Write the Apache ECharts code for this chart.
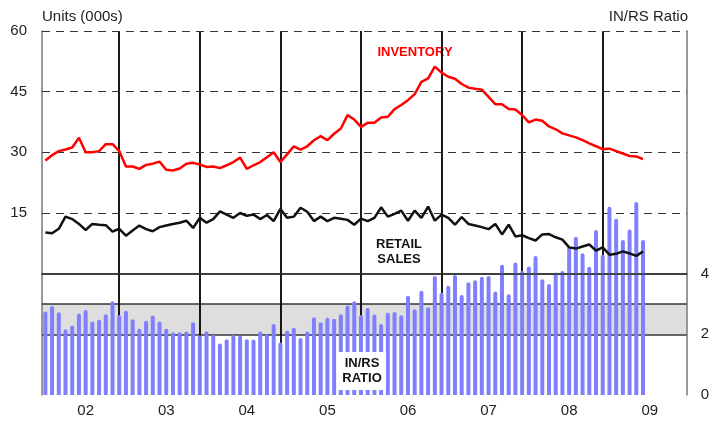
<!DOCTYPE html>
<html>
<head>
<meta charset="utf-8">
<script src="https://cdn.jsdelivr.net/npm/echarts@6/dist/echarts.min.js"></script>
<style>
  html, body { margin: 0; padding: 0; background: #fff; }
  #chart { width: 712px; height: 421px; }
</style>
</head>
<body>
<div id="chart"></div>
<script>
const years = ['02', '03', '04', '05', '06', '07', '08', '09']
const monthNames = ['Jan', 'Feb', 'Mar', 'Apr', 'May', 'Jun', 'Jul', 'Aug', 'Sep', 'Oct', 'Nov', 'Dec']
const months = years.flatMap(y => monthNames.map(m => m + ' ' + y))

// year-end markers (December of each year)
const yearEndMarks = ['Dec 02', 'Dec 03', 'Dec 04', 'Dec 05', 'Dec 06', 'Dec 07', 'Dec 08']

// Units (000s), Jan 02 .. Jun 09
const inventory = [
  28.0, 29.3, 30.3, 30.7, 31.2, 33.6, 30.0, 30.0, 30.3, 32.0, 32.0, 30.3,
  26.5, 26.5, 25.9, 26.9, 27.2, 27.7, 25.7, 25.5, 26.0, 27.2, 27.4, 27.0,
  26.4, 26.5, 26.1, 26.8, 27.6, 28.7, 25.9, 26.8, 27.6, 28.8, 30.0, 27.6,
  29.5, 31.5, 30.7, 31.5, 33.0, 34.0, 33.0, 34.6, 35.9, 39.2, 38.1, 36.3,
  37.3, 37.3, 38.6, 38.8, 40.7, 41.7, 42.9, 44.4, 47.4, 48.3, 51.2, 49.7,
  48.7, 48.2, 46.9, 46.0, 45.7, 45.5, 43.7, 41.9, 41.9, 40.7, 40.6, 39.2,
  37.4, 38.1, 37.8, 36.4, 35.7, 34.7, 34.2, 33.7, 33.0, 32.2, 31.5, 30.8,
  30.9, 30.3, 29.7, 29.1, 29.0, 28.3
]
const retailSales = [
  10.2, 10.0, 11.1, 14.1, 13.5, 12.3, 10.8, 12.3, 12.1, 12.0, 10.4, 11.1,
  9.4, 10.7, 11.9, 11.0, 10.5, 11.5, 11.9, 12.3, 12.6, 13.1, 11.3, 13.8,
  12.6, 13.5, 15.4, 14.6, 13.8, 15.0, 14.3, 14.6, 13.5, 14.5, 13.0, 16.0,
  13.8, 14.1, 16.3, 15.3, 13.0, 14.1, 13.0, 13.8, 13.6, 13.3, 12.1, 13.6,
  13.0, 13.8, 16.4, 14.1, 14.8, 15.6, 13.1, 15.6, 13.8, 16.6, 13.1, 14.6,
  13.8, 12.1, 14.0, 12.3, 11.9, 11.5, 11.0, 12.3, 9.7, 12.1, 9.2, 9.5,
  8.8, 8.2, 9.7, 9.8, 9.0, 8.4, 6.5, 6.2, 6.7, 7.2, 5.7, 6.5,
  4.7, 4.9, 5.5, 5.0, 4.4, 5.5
]
// IN/RS ratio
const inRsRatio = [
  2.75, 2.93, 2.73, 2.17, 2.29, 2.69, 2.80, 2.42, 2.48, 2.66, 3.09, 2.64,
  2.78, 2.50, 2.18, 2.45, 2.62, 2.42, 2.18, 2.07, 2.07, 2.09, 2.40, 1.97,
  2.09, 1.98, 1.70, 1.84, 1.98, 1.96, 1.84, 1.83, 2.09, 2.00, 2.34, 1.73,
  2.12, 2.22, 1.88, 2.09, 2.56, 2.40, 2.55, 2.51, 2.66, 2.95, 3.09, 2.64,
  2.87, 2.65, 2.34, 2.71, 2.74, 2.63, 3.27, 2.83, 3.44, 2.89, 3.92, 3.37,
  3.60, 3.96, 3.30, 3.72, 3.78, 3.90, 3.92, 3.41, 4.29, 3.32, 4.37, 4.09,
  4.24, 4.58, 3.82, 3.66, 4.04, 4.09, 4.89, 5.22, 4.67, 4.23, 5.44, 4.62,
  6.21, 5.81, 5.11, 5.46, 6.36, 5.11
]
const unitGridLines = [15, 30, 45, 60]
const ratioLines = [2, 3, 4]
const ratioBand = [2, 3]

const font = "'Liberation Sans', Arial, Helvetica, sans-serif"
const chart = echarts.init(document.getElementById('chart'), null, { renderer: 'canvas' })

chart.setOption({
  animation: false,
  textStyle: { fontFamily: font },
  grid: { left: 42, right: 24, top: 31, bottom: 26 },
  xAxis: {
    type: 'category',
    data: months,
    boundaryGap: true,
    z: 10,
    axisLine: { lineStyle: { color: '#333', width: 1.5 } },
    axisTick: { interval: 0, alignWithLabel: true, inside: true, length: 9, lineStyle: { color: '#111', width: 1 } },
    axisLabel: {
      interval: (idx) => idx % 12 === 6,
      formatter: (v) => v.split(' ')[1],
      color: '#222',
      fontSize: 15,
      margin: 8
    },
    splitLine: { show: false }
  },
  yAxis: [
    {
      type: 'value',
      min: -30,
      max: 60,
      interval: 15,
      axisLine: { show: true, lineStyle: { color: '#777', width: 1.5 } },
      axisTick: { show: false },
      axisLabel: {
        color: '#222',
        fontSize: 15,
        margin: 15,
        formatter: (v) => (v >= 15 ? String(v) : '')
      },
      splitLine: { show: false }
    },
    {
      type: 'value',
      min: 0,
      max: 12,
      interval: 2,
      position: 'right',
      axisLine: { show: true, lineStyle: { color: '#777', width: 1.5 } },
      axisTick: { show: false },
      axisLabel: {
        color: '#222',
        fontSize: 15,
        margin: 14,
        formatter: (v) => (v <= 4 ? String(v) : '')
      },
      splitLine: { show: false }
    }
  ],
  series: [
    // grey band behind the ratio bars
    {
      type: 'line',
      yAxisIndex: 1,
      data: [],
      z: 0,
      silent: true,
      markArea: {
        silent: true,
        z: 0,
        itemStyle: { color: '#dedede' },
        data: [[{ yAxis: ratioBand[0] }, { yAxis: ratioBand[1] }]]
      }
    },
    // reference lines, kept behind the bars
    {
      type: 'line',
      yAxisIndex: 1,
      data: [],
      z: 1,
      silent: true,
      markLine: {
        silent: true,
        z: 1,
        symbol: 'none',
        label: { show: false },
        data: [
          ...ratioLines.map(v => ({ yAxis: v, lineStyle: { color: '#333', width: 1.5, type: 'solid' } })),
          ...yearEndMarks.map(m => ({ xAxis: m, lineStyle: { color: '#000', width: 1.8, type: 'solid' } }))
        ]
      }
    },
    {
      type: 'line',
      yAxisIndex: 0,
      data: [],
      z: 1,
      silent: true,
      markLine: {
        silent: true,
        z: 1,
        symbol: 'none',
        label: { show: false },
        lineStyle: { color: '#333', width: 1.2, type: [8, 6] },
        data: unitGridLines.map(v => ({ yAxis: v }))
      }
    },
    {
      name: 'IN/RS Ratio',
      type: 'bar',
      yAxisIndex: 1,
      data: inRsRatio,
      barWidth: 4,
      z: 2,
      itemStyle: { color: '#8080ff', borderRadius: [2, 2, 0, 0] }
    },
    {
      name: 'Retail Sales',
      type: 'line',
      yAxisIndex: 0,
      data: retailSales,
      z: 3,
      symbol: 'none',
      lineStyle: { color: '#111', width: 2.5 }
    },
    {
      name: 'Inventory',
      type: 'line',
      yAxisIndex: 0,
      data: inventory,
      z: 3,
      symbol: 'none',
      lineStyle: { color: '#ff0000', width: 2.5 }
    }
  ],
  graphic: [
    { type: 'text', left: 42, top: 9, style: { text: 'Units (000s)', font: '15px ' + font, fill: '#222' } },
    { type: 'text', right: 24, top: 9, style: { text: 'IN/RS Ratio', font: '15px ' + font, fill: '#222' } },
    { type: 'text', x: 415, y: 52, style: { text: 'INVENTORY', font: 'bold 13px ' + font, fill: '#ff0000', align: 'center', verticalAlign: 'middle' } },
    { type: 'text', x: 399, y: 252, style: { text: 'RETAIL\nSALES', font: 'bold 13px ' + font, lineHeight: 15, fill: '#111', align: 'center', verticalAlign: 'middle' } },
    { type: 'rect', shape: { x: 337, y: 352, width: 49, height: 38 }, style: { fill: '#fff' }, z: 100 },
    { type: 'text', x: 362, y: 371, z: 101, style: { text: 'IN/RS\nRATIO', font: 'bold 13px ' + font, lineHeight: 15, fill: '#111', align: 'center', verticalAlign: 'middle' } }
  ]
})
</script>
</body>
</html>
